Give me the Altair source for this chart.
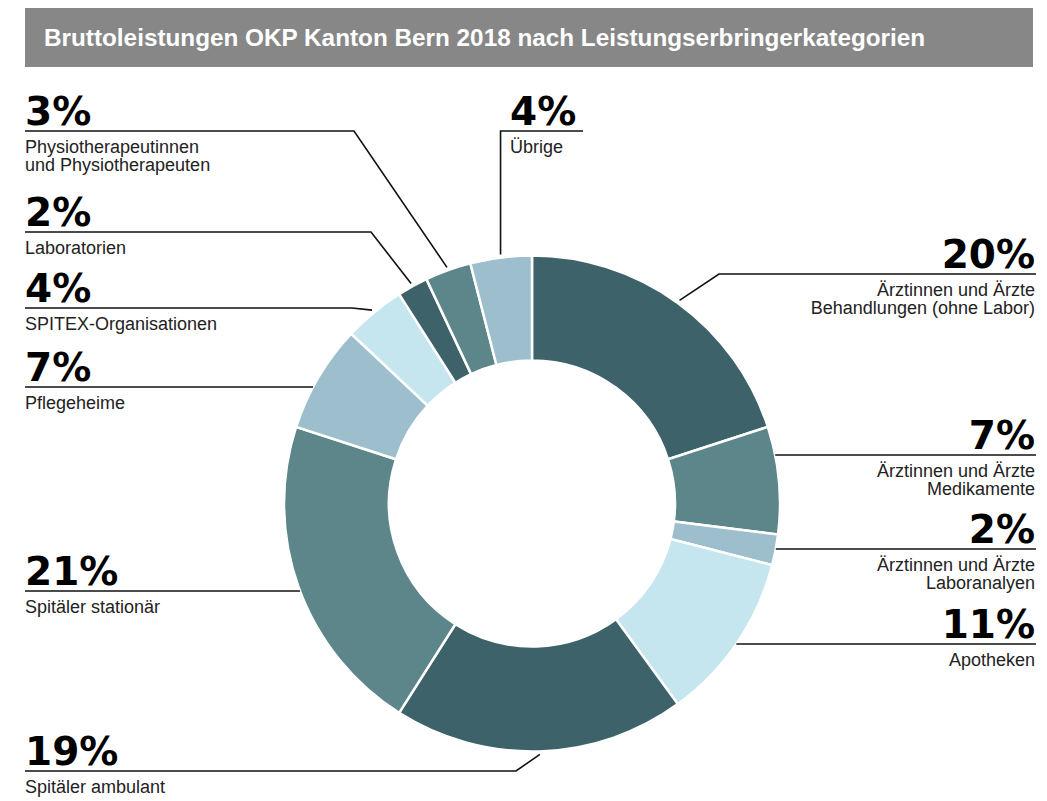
import math
import altair as alt
import pandas as pd

# ---------------- data ----------------
title_text = "Bruttoleistungen OKP Kanton Bern 2018 nach Leistungserbringerkategorien"
categories = [
    "Ärztinnen und Ärzte\nBehandlungen (ohne Labor)",
    "Ärztinnen und Ärzte\nMedikamente",
    "Ärztinnen und Ärzte\nLaboranalyen",
    "Apotheken",
    "Spitäler ambulant",
    "Spitäler stationär",
    "Pflegeheime",
    "SPITEX-Organisationen",
    "Laboratorien",
    "Physiotherapeutinnen\nund Physiotherapeuten",
    "Übrige",
]
values = [20, 7, 2, 11, 19, 21, 7, 4, 2, 3, 4]
pct_labels = [f"{v}%" for v in values]

# ---------------- styles ----------------
slice_colors = ["#3d6269", "#5d868a", "#9dbfcd", "#c5e6ef", "#3d6269", "#5d868a",
                "#9dbfcd", "#c5e6ef", "#3d6269", "#5d868a", "#9dbfcd"]

# ---------------- layout (page pixels) ----------------
W, H = 1028, 789
OFF = 8
CX, CY = 532, 503.5
R_OUT, R_IN, R_LEAD = 248, 143, 251
label_side = ["right", "right", "right", "right", "left", "left", "left", "left", "left", "left", "top"]
underline_y = [274, 455, 549, 644, 771, 591, 387, 308, 232, 131, 131]
knee_x = [719, None, None, None, 516, None, None, 352, 371, 354, None]
LEFT_X, RIGHT_X, TOP_X, TOP_END = 25, 1036, 510, 583

total = sum(values)
arc_df = pd.DataFrame({"idx": list(range(len(values))), "value": values})

line_rows, pct_rows, cat_rows = [], [], []
cum = 0
for i, v in enumerate(values):
    mid = (cum + v / 2) / total * 2 * math.pi
    cum += v
    ex, ey = CX + R_LEAD * math.sin(mid), CY - R_LEAD * math.cos(mid)
    uy = underline_y[i]
    side = label_side[i]
    if side == "top":
        pts = [(TOP_END, uy), (ex, uy), (ex, ey)]
        tx, align = TOP_X, "left"
    else:
        sx = RIGHT_X if side == "right" else LEFT_X
        tx = RIGHT_X - 1 if side == "right" else LEFT_X
        align = "right" if side == "right" else "left"
        if knee_x[i] is None:
            sgn = 1 if side == "right" else -1
            edge = CX + sgn * math.sqrt(R_OUT ** 2 - (uy - CY) ** 2)
            pts = [(sx, uy), (edge, uy)]
        else:
            pts = [(sx, uy), (knee_x[i], uy), (ex, ey)]
    for k, (px, py) in enumerate(pts):
        line_rows.append({"idx": i, "k": k, "x": px, "y": py})
    pct_rows.append({"idx": i, "x": tx, "y": uy - 6, "t": pct_labels[i], "align": align})
    cat_rows.append({"idx": i, "x": tx, "y": uy + 22, "t": categories[i], "align": align})

line_df = pd.DataFrame(line_rows)
pct_df = pd.DataFrame(pct_rows)
cat_df = pd.DataFrame(cat_rows)

xs = alt.Scale(domain=[OFF, OFF + W], zero=False, nice=False)
ys = alt.Scale(domain=[OFF, OFF + H], zero=False, nice=False, reverse=True)

bar = alt.Chart(pd.DataFrame({"a": [0]})).mark_rect(color="#878787").encode(
    x=alt.value(25 - OFF), x2=alt.value(1033 - OFF),
    y=alt.value(0), y2=alt.value(67 - OFF),
)
title = alt.Chart(pd.DataFrame({"t": [title_text]})).mark_text(
    align="left", baseline="alphabetic", font="Liberation Sans", fontWeight="bold",
    fontSize=24.3, color="white",
).encode(x=alt.value(44 - OFF), y=alt.value(46 - OFF), text="t:N")

donut = alt.Chart(arc_df).mark_arc(
    innerRadius=R_IN, outerRadius=R_OUT, stroke="white", strokeWidth=2.5
).encode(
    theta=alt.Theta("value:Q", stack=True),
    order=alt.Order("idx:Q"),
    color=alt.Color("idx:N", scale=alt.Scale(domain=list(range(len(values))), range=slice_colors), legend=None),
    x=alt.value(CX - OFF), y=alt.value(CY - OFF),
)

leaders = alt.Chart(line_df).mark_line(color="#111111", strokeWidth=1.6).encode(
    x=alt.X("x:Q", scale=xs, axis=None),
    y=alt.Y("y:Q", scale=ys, axis=None),
    detail="idx:N",
    order="k:Q",
)


def texts(df, size, weight, font, color, lh=None):
    layers = []
    for al in ["left", "right"]:
        sub = df[df["align"] == al]
        if len(sub) == 0:
            continue
        kw = dict(align=al, baseline="alphabetic", fontSize=size, fontWeight=weight, font=font, color=color)
        if lh:
            kw.update(lineBreak="\n", lineHeight=lh)
        layers.append(alt.Chart(sub).mark_text(**kw).encode(
            x=alt.X("x:Q", scale=xs, axis=None),
            y=alt.Y("y:Q", scale=ys, axis=None),
            text="t:N",
        ))
    return layers


pct_layers = texts(pct_df, 39, "bold", "DejaVu Sans", "#000000")
cat_layers = texts(cat_df, 18, "normal", "Liberation Sans", "#222222", lh=17.5)

chart = alt.layer(bar, title, donut, leaders, *pct_layers, *cat_layers).properties(
    width=W, height=H, padding=0, autosize="none"
).configure_view(stroke=None)

chart.save("out.html", embed_options={"renderer": "svg", "actions": False})
